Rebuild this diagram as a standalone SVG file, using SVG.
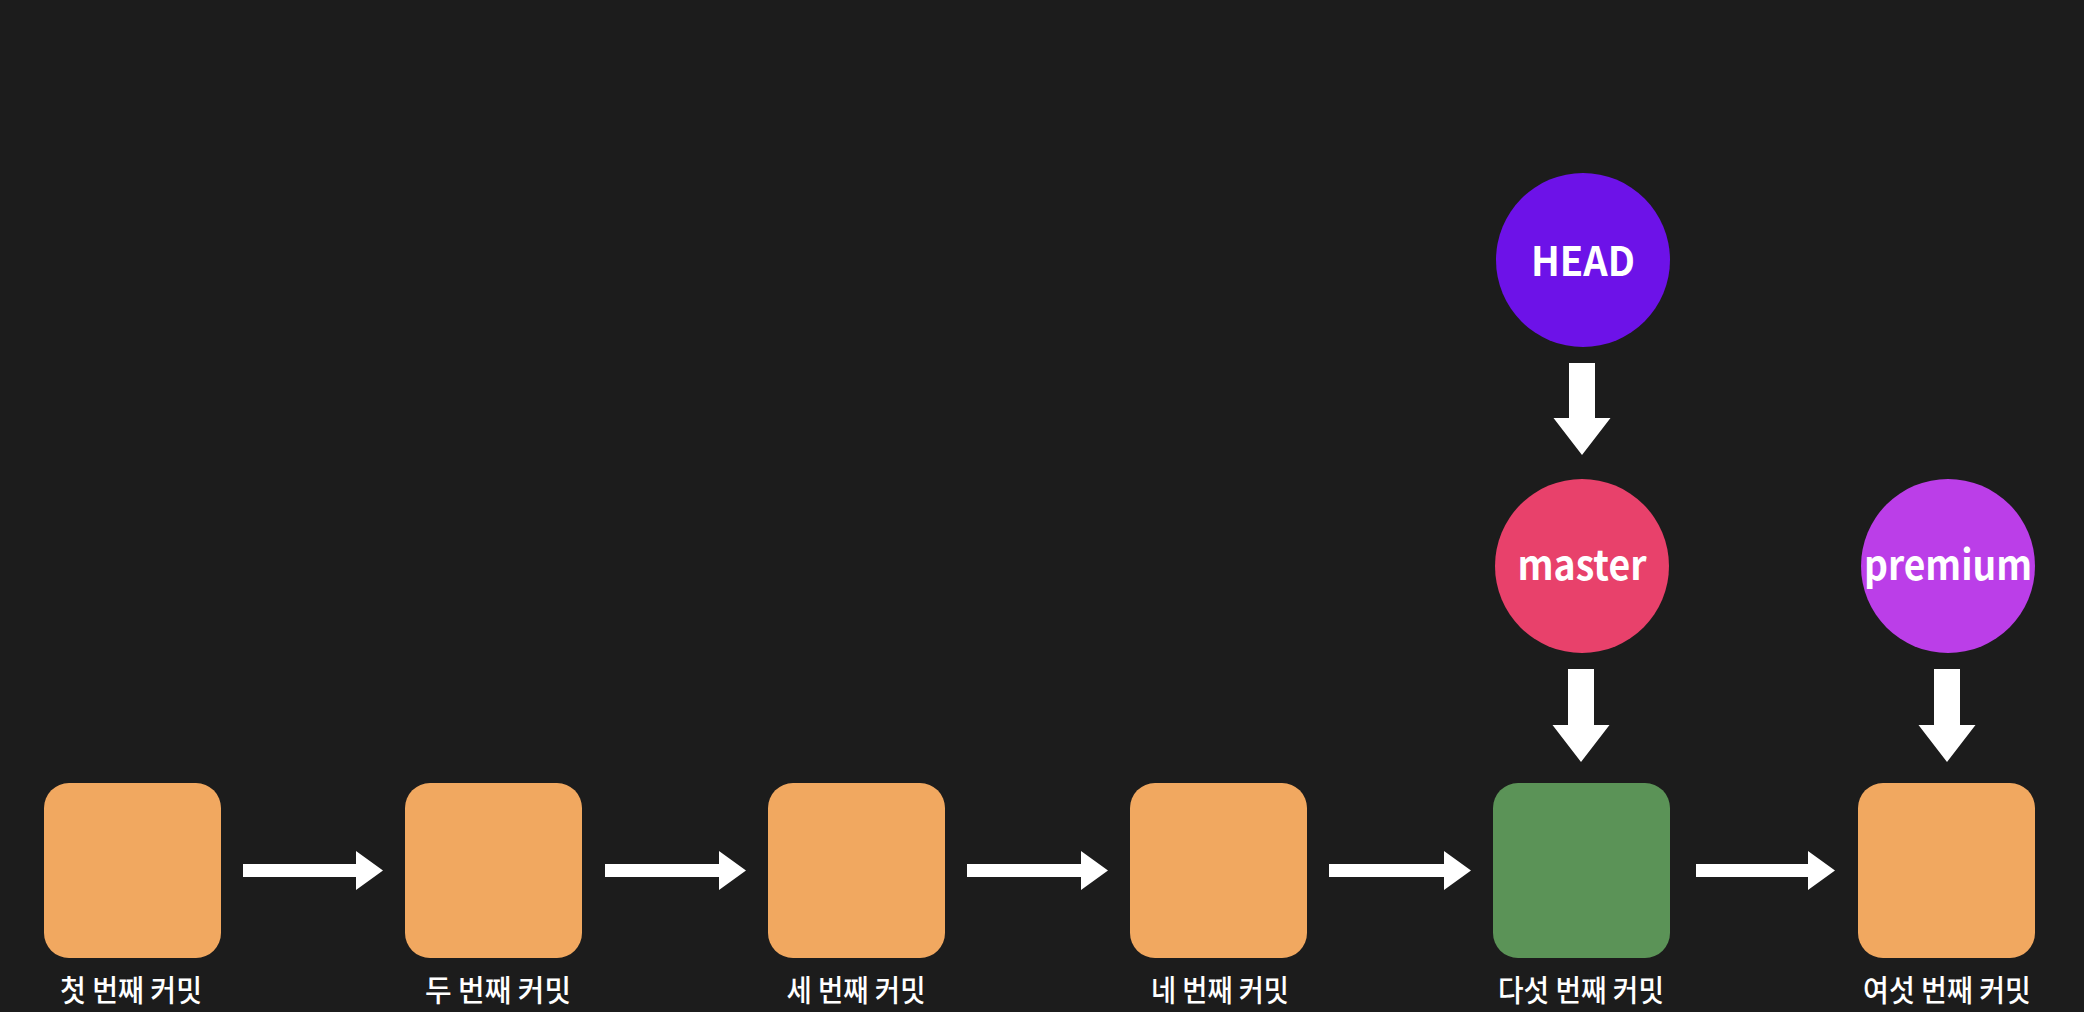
<svg xmlns="http://www.w3.org/2000/svg" width="2084" height="1012" viewBox="0 0 2084 1012">
<style>
.bg{fill:#1c1c1c}
.commit{fill:#f1a860}
.current{fill:#5b9357}
.arrow{fill:#ffffff}
.lbl{fill:#ffffff;font-family:"Noto Sans CJK KR","Noto Sans",sans-serif;font-size:30px;font-weight:500;text-anchor:middle}
.ref{fill:#ffffff;font-family:"Noto Sans CJK KR","Noto Sans",sans-serif;font-size:41px;font-weight:700;text-anchor:middle}
</style>
<rect class="bg" x="0" y="0" width="2084" height="1012"/>
<g id="connectors">
<polygon class="arrow" points="243,864 356,864 356,851 383,870.5 356,890 356,877 243,877"/>
<polygon class="arrow" points="605,864 719,864 719,851 746,870.5 719,890 719,877 605,877"/>
<polygon class="arrow" points="967,864 1081,864 1081,851 1108,870.5 1081,890 1081,877 967,877"/>
<polygon class="arrow" points="1329,864 1444,864 1444,851 1471,870.5 1444,890 1444,877 1329,877"/>
<polygon class="arrow" points="1696,864 1808,864 1808,851 1835,870.5 1808,890 1808,877 1696,877"/>
<polygon class="arrow" points="1569,363 1595,363 1595,418 1610.5,418 1582,455 1553.5,418 1569,418"/>
<polygon class="arrow" points="1568,669 1594,669 1594,725 1609.5,725 1581,762 1552.5,725 1568,725"/>
<polygon class="arrow" points="1934,669 1960,669 1960,725 1975.5,725 1947,762 1918.5,725 1934,725"/>
</g>
<g id="commit1"><rect class="commit" x="44" y="783" width="177" height="175" rx="25"/><text class="lbl" x="131" y="1001" textLength="142" lengthAdjust="spacingAndGlyphs">첫 번째 커밋</text></g>
<g id="commit2"><rect class="commit" x="405" y="783" width="177" height="175" rx="25"/><text class="lbl" x="498" y="1001" textLength="146" lengthAdjust="spacingAndGlyphs">두 번째 커밋</text></g>
<g id="commit3"><rect class="commit" x="768" y="783" width="177" height="175" rx="25"/><text class="lbl" x="856" y="1001" textLength="139" lengthAdjust="spacingAndGlyphs">세 번째 커밋</text></g>
<g id="commit4"><rect class="commit" x="1130" y="783" width="177" height="175" rx="25"/><text class="lbl" x="1220" y="1001" textLength="138" lengthAdjust="spacingAndGlyphs">네 번째 커밋</text></g>
<g id="commit5"><rect class="current" x="1493" y="783" width="177" height="175" rx="25"/><text class="lbl" x="1581" y="1001" textLength="166" lengthAdjust="spacingAndGlyphs">다섯 번째 커밋</text></g>
<g id="commit6"><rect class="commit" x="1858" y="783" width="177" height="175" rx="25"/><text class="lbl" x="1947" y="1001" textLength="168" lengthAdjust="spacingAndGlyphs">여섯 번째 커밋</text></g>
<g id="head"><circle cx="1583" cy="260" r="87" fill="#6d12e8"/><text class="ref" x="1583" y="276" textLength="104" lengthAdjust="spacingAndGlyphs">HEAD</text></g>
<g id="master"><circle cx="1582" cy="566" r="87" fill="#e8416b"/><text class="ref" x="1582" y="580" textLength="129" lengthAdjust="spacingAndGlyphs">master</text></g>
<g id="premium"><circle cx="1948" cy="566" r="87" fill="#bb3ee8"/><text class="ref" x="1948" y="580" textLength="168" lengthAdjust="spacingAndGlyphs">premium</text></g>
</svg>
